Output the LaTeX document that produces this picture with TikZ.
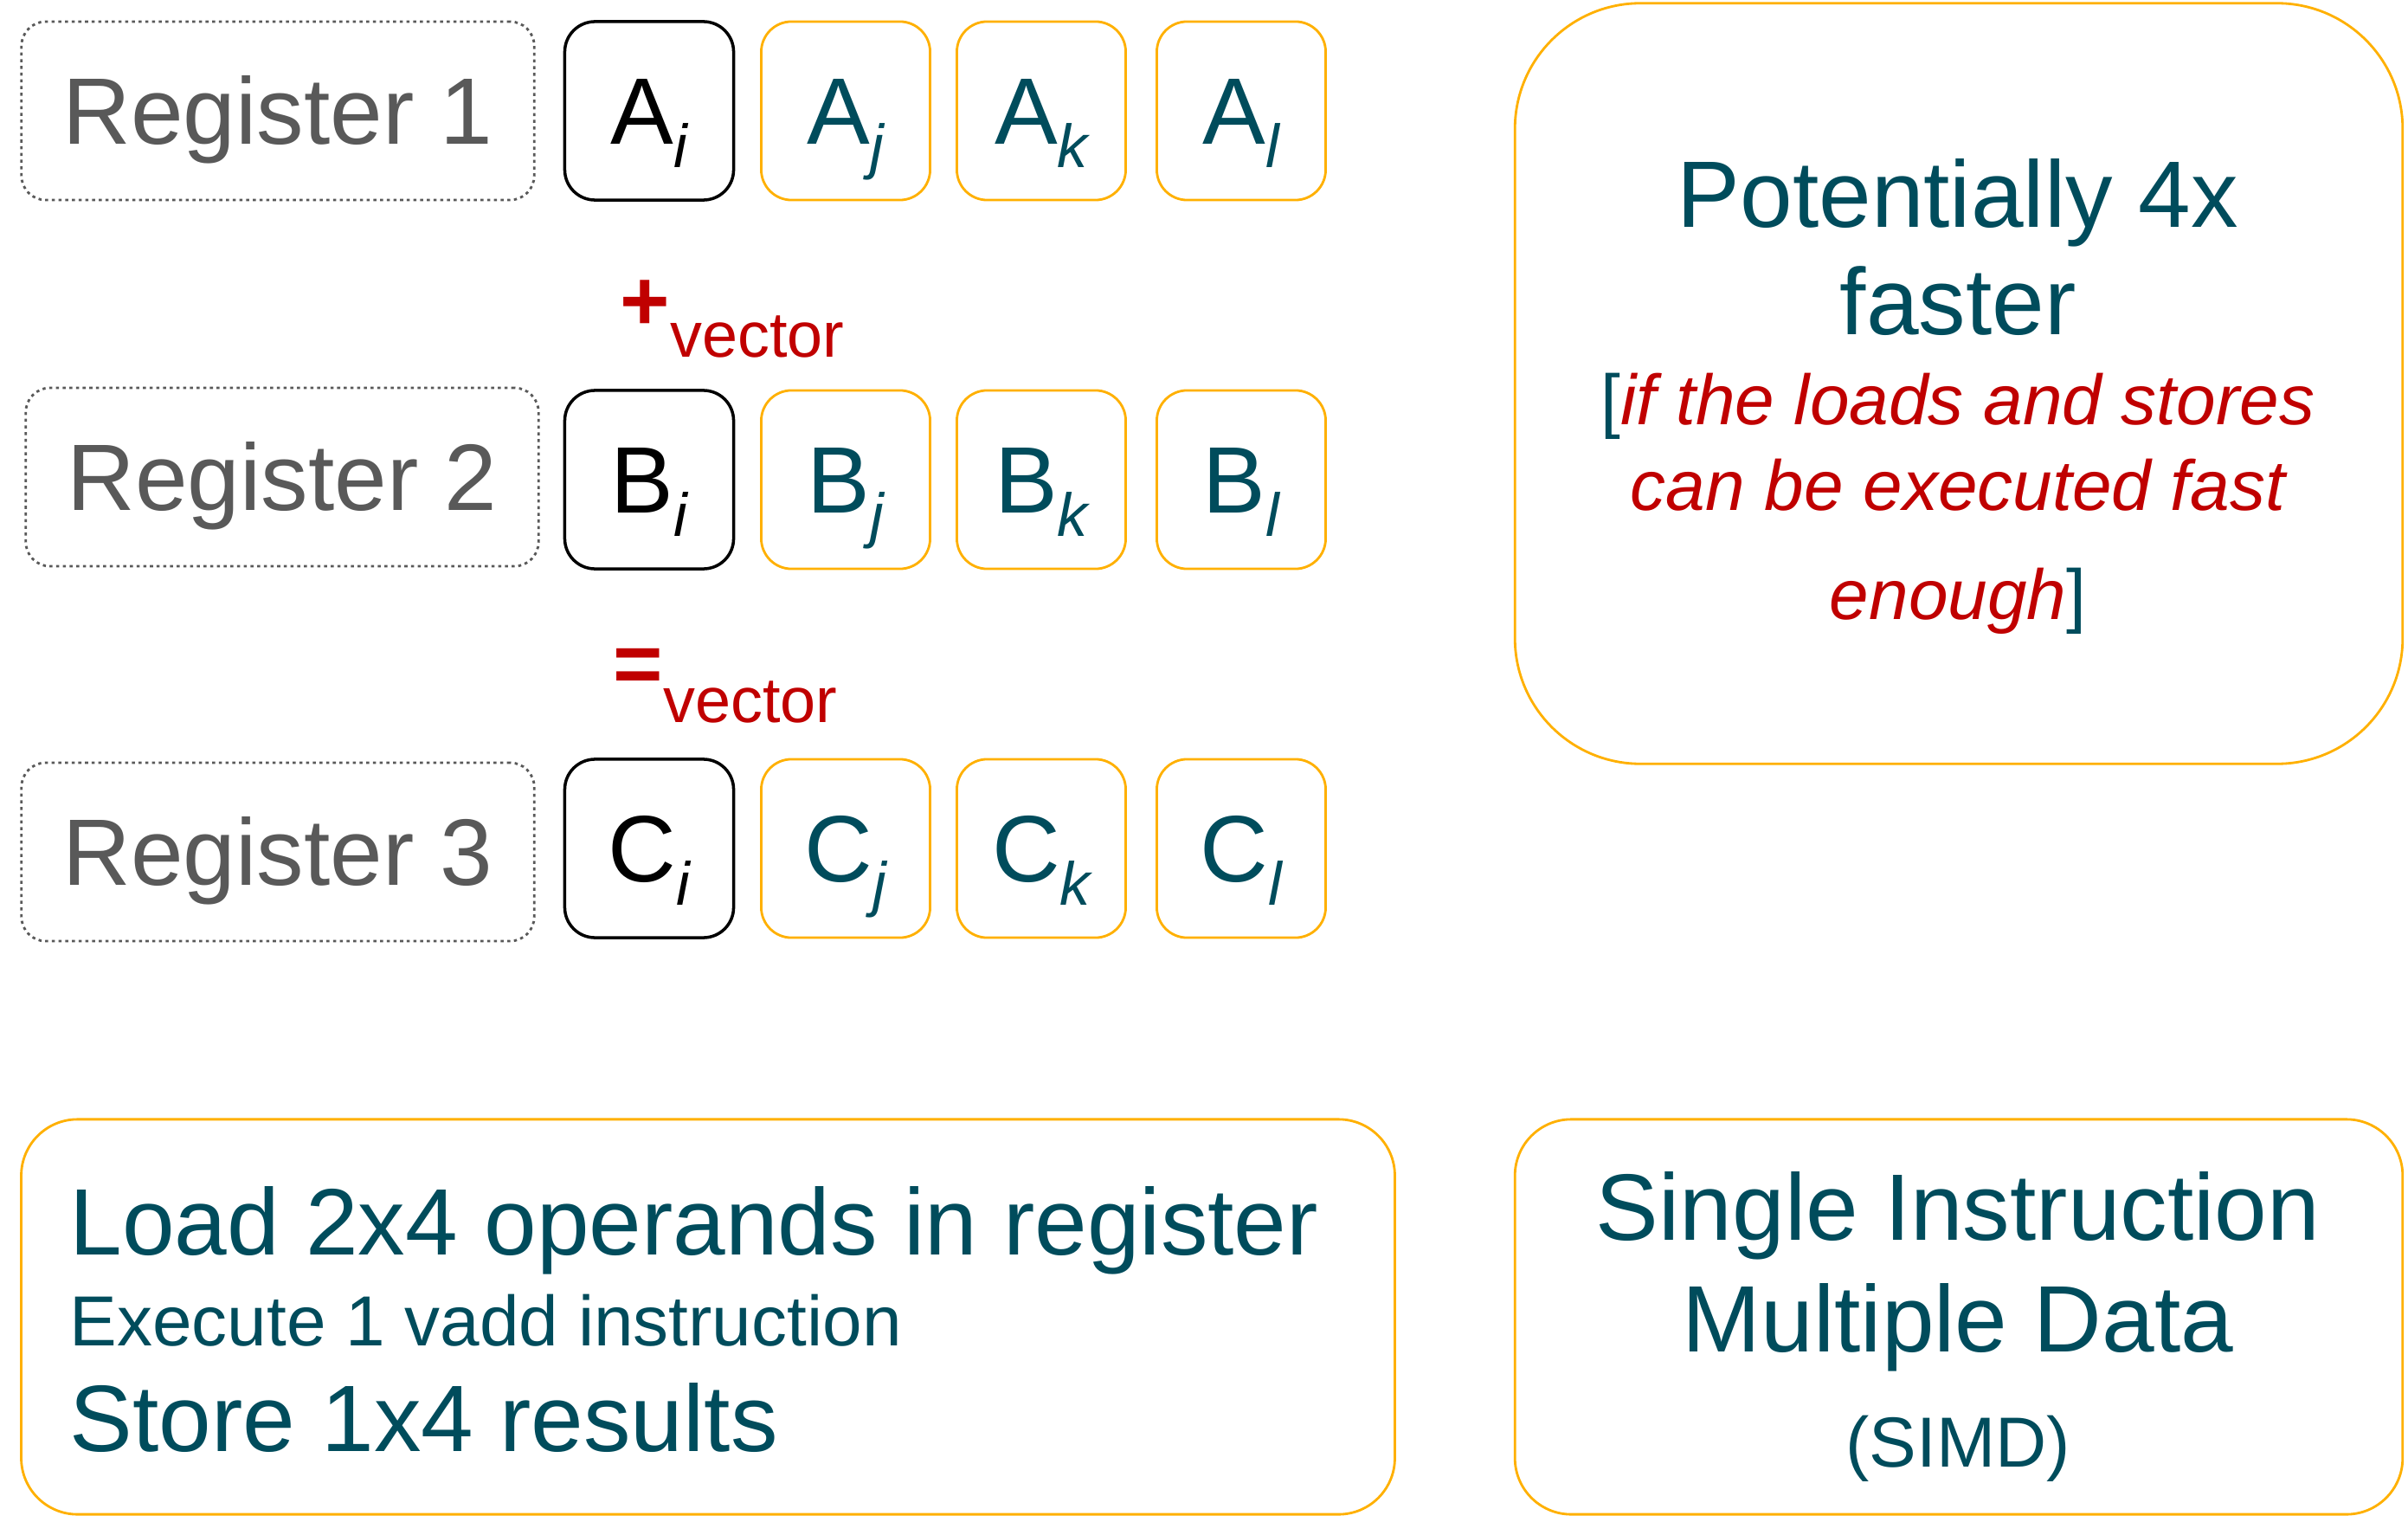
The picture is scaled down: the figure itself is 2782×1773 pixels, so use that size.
\documentclass[tikz,border=0pt]{standalone}
\usepackage{fontspec}
\setmainfont{Liberation Sans}

\definecolor{simdteal}{RGB}{0,76,92}
\definecolor{simdorange}{RGB}{255,176,0}
\definecolor{simdgray}{RGB}{89,89,89}
\definecolor{simdred}{RGB}{192,0,0}

% lowered italic index of a lane
\newcommand{\lane}[1]{\raisebox{-7.7pt}{\fontsize{20}{20}\selectfont\itshape #1}}
% lowered word after an operator
\newcommand{\opword}[2]{{\bfseries\fontsize{28}{28}\selectfont #1}\raisebox{-#2}{\fontsize{21}{21}\selectfont vector}}

\begin{document}
\begin{tikzpicture}[x = 0.01cm, y = -0.01cm,
    big/.style = {font = \fontsize{31}{37}\selectfont},
    small/.style = {font = \fontsize{23.3}{28}\selectfont},
    reg/.style = {draw = simdgray, line width = 0.8pt, dash pattern = on 1pt off 1.2pt, rounded corners = 0.28cm,
        minimum width = 5.92cm, minimum height = 2.06cm, inner sep = 0pt, text height = 22pt, text depth = 0pt, text = simdgray, big},
    cell/.style = {draw = simdorange, line width = 0.8pt, rounded corners = 0.35cm,
        minimum width = 1.95cm, minimum height = 2.06cm, inner sep = 0pt, text height = 22pt, text depth = 0pt, text = simdteal, big},
    first/.style = {cell, draw = black, text = black, line width = 1pt},
    panel/.style = {draw = simdorange, line width = 0.8pt, inner sep = 0pt},
    txt/.style = {inner sep = 0pt, anchor = base, text = simdteal},
    oper/.style = {inner sep = 0pt, anchor = base west, text = simdred}]
    \useasboundingbox (0,0) rectangle (2782,1773);

    % registers and their lanes
    \node[reg] (R1) at (321,128) {Register 1};
    \node[first] (A1) at (750,128) {A\lane{i}};
    \node[cell] (A2) at (977,128) {A\lane{j}};
    \node[cell] (A3) at (1203,128) {A\lane{k}};
    \node[cell] (A4) at (1434,128) {A\lane{l}};

    \node[reg] (R2) at (326,551) {Register 2};
    \node[first] (B1) at (750,554) {B\lane{i}};
    \node[cell] (B2) at (977,554) {B\lane{j}};
    \node[cell] (B3) at (1203,554) {B\lane{k}};
    \node[cell] (B4) at (1434,554) {B\lane{l}};

    \node[reg] (R3) at (321,984) {Register 3};
    \node[first] (C1) at (750,980) {C\lane{i}};
    \node[cell] (C2) at (977,980) {C\lane{j}};
    \node[cell] (C3) at (1203,980) {C\lane{k}};
    \node[cell] (C4) at (1434,980) {C\lane{l}};

    % operators
    \node[oper] (PLUS) at (716,382) {\opword{+}{8.8pt}};
    \node[oper] (EQ) at (708,800) {\opword{=}{9.7pt}};

    % speed-up panel
    \node[panel, rounded corners = 1.45cm, minimum width = 10.25cm, minimum height = 8.78cm] (GAIN) at (2263,443) {};
    \node[txt, big] (G1) at (2262,263) {Potentially 4x};
    \node[txt, big] (G2) at (2262,387) {faster};
    \node[txt, small] (G3) at (2262,491) {[\textcolor{simdred}{\itshape if the loads and stores}};
    \node[txt, small, text = simdred] (G4) at (2262,589) {\itshape can be executed fast};
    \node[txt, small] (G5) at (2262,715) {\textcolor{simdred}{\itshape enough}]};

    % steps panel
    \node[panel, rounded corners = 0.65cm, minimum width = 15.86cm, minimum height = 4.56cm] (STEPS) at (818,1521) {};
    \node[txt, big, anchor = base west] (S1) at (80,1449) {Load 2x4 operands in register};
    \node[txt, small, anchor = base west] (S2) at (80,1554) {Execute 1 vadd instruction};
    \node[txt, big, anchor = base west] (S3) at (80,1676) {Store 1x4 results};

    % name panel
    \node[panel, rounded corners = 0.65cm, minimum width = 10.25cm, minimum height = 4.56cm] (NAME) at (2263,1521) {};
    \node[txt, big] (N1) at (2262,1432) {Single Instruction};
    \node[txt, big] (N2) at (2262,1561) {Multiple Data};
    \node[txt, small] (N3) at (2262,1694) {(SIMD)};
\end{tikzpicture}
\end{document}
